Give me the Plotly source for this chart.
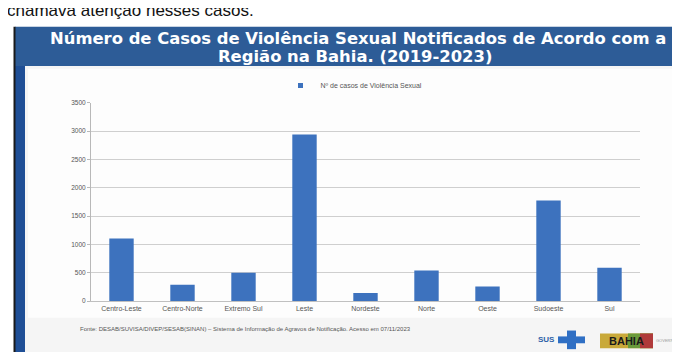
import plotly.graph_objects as go

W, H = 680, 352

categories = ["Centro-Leste", "Centro-Norte", "Extremo Sul", "Leste", "Nordeste",
              "Norte", "Oeste", "Sudoeste", "Sul"]
casos = [1105, 290, 500, 2940, 145, 540, 260, 1775, 590]
y_ticks = [0, 500, 1000, 1500, 2000, 2500, 3000, 3500]
series_name = "Nº de casos de Violência Sexual"
title_l1 = "Número de Casos de Violência Sexual Notificados de Acordo com a"
title_l2 = "Região na Bahia. (2019-2023)"
source_text = ("Fonte: DESAB/SUVISA/DIVEP/SESAB(SINAN) – Sistema de Informação de Agravos "
               "de Notificação. Acesso em 07/11/2023")
top_text = "chamava atenção nesses casos."

BAR_COLOR = "#3d72be"


def px(x):
    return x / W


def py(y):
    return 1 - y / H


fig = go.Figure()
fig.add_trace(go.Bar(
    x=categories, y=casos, name=series_name,
    marker=dict(color=BAR_COLOR, line=dict(width=0)),
    showlegend=False,
))
fig.add_trace(go.Scatter(
    x=[None], y=[None], mode="markers", name=series_name,
    marker=dict(symbol="square", size=5, color=BAR_COLOR),
    showlegend=True,
))

shapes = []
shapes.append(dict(type="rect", xref="paper", yref="paper", x0=px(7), x1=px(680),
                   y0=py(352), y1=py(15), fillcolor="#f5f5f5", line=dict(width=0), layer="below"))
shapes.append(dict(type="rect", xref="paper", yref="paper", x0=px(7), x1=px(680),
                   y0=py(55), y1=py(15), fillcolor="#2d5c97", line=dict(width=0), layer="below"))
shapes.append(dict(type="rect", xref="paper", yref="paper", x0=px(7), x1=px(17),
                   y0=py(352), y1=py(55), fillcolor="#1f4f96", line=dict(width=0), layer="below"))
shapes.append(dict(type="rect", xref="paper", yref="paper", x0=px(5.5), x1=px(7.5),
                   y0=py(352), y1=py(15), fillcolor="#1a1a1a", line=dict(width=0), layer="below"))
shapes.append(dict(type="rect", xref="paper", yref="paper", x0=px(20), x1=px(668),
                   y0=py(312), y1=py(58), fillcolor="#fdfdfd", line=dict(width=0), layer="below"))
shapes.append(dict(type="rect", xref="paper", yref="paper", x0=px(559), x1=px(568),
                   y0=py(344), y1=py(325), fillcolor="#2f6fc4", line=dict(width=0)))
shapes.append(dict(type="rect", xref="paper", yref="paper", x0=px(550), x1=px(577),
                   y0=py(338), y1=py(331), fillcolor="#2f6fc4", line=dict(width=0)))
shapes.append(dict(type="rect", xref="paper", yref="paper", x0=px(592), x1=px(645),
                   y0=py(343), y1=py(328), fillcolor="#c9a93a", line=dict(width=0)))
shapes.append(dict(type="rect", xref="paper", yref="paper", x0=px(620), x1=px(645),
                   y0=py(343), y1=py(328), fillcolor="#6a9a3a", line=dict(width=0)))
shapes.append(dict(type="rect", xref="paper", yref="paper", x0=px(632), x1=px(645),
                   y0=py(343), y1=py(328), fillcolor="#b03a3a", line=dict(width=0)))

FONT = "Liberation Sans, Arial"
TITLE_FONT = dict(family="DejaVu Sans", size=16.4, color="#ffffff")
annotations = [
    dict(text=top_text, xref="paper", yref="paper", x=px(-3), y=py(-2), xanchor="left",
         yanchor="middle", showarrow=False,
         font=dict(family=FONT, size=17, color="#111111")),
    dict(text="<b>" + title_l1 + "</b>", xref="paper", yref="paper", x=px(350), y=py(27),
         xanchor="center", yanchor="middle", showarrow=False, font=TITLE_FONT),
    dict(text="<b>" + title_l2 + "</b>", xref="paper", yref="paper", x=px(347), y=py(45),
         xanchor="center", yanchor="middle", showarrow=False, font=TITLE_FONT),
    dict(text=source_text, xref="paper", yref="paper", x=px(70), y=py(323),
         xanchor="left", yanchor="middle", showarrow=False,
         font=dict(family=FONT, size=6, color="#555555")),
    dict(text="<b>SUS</b>", xref="paper", yref="paper", x=px(549), y=py(334),
         xanchor="right", yanchor="middle", showarrow=False,
         font=dict(family=FONT, size=8, color="#2f5fa8")),
    dict(text="<b>BAHIA</b>", xref="paper", yref="paper", x=px(618), y=py(335.5),
         xanchor="center", yanchor="middle", showarrow=False,
         font=dict(family=FONT, size=11, color="#1a1a1a")),
    dict(text="GOVERNO", xref="paper", yref="paper", x=px(646), y=py(335.5),
         xanchor="left", yanchor="middle", showarrow=False,
         font=dict(family=FONT, size=4, color="#999999")),
]

fig.update_layout(
    width=W, height=H,
    margin=dict(l=0, r=0, t=0, b=0),
    paper_bgcolor="#ffffff",
    plot_bgcolor="rgba(0,0,0,0)",
    bargap=0.6,
    shapes=shapes,
    annotations=annotations,
    legend=dict(orientation="h", x=px(346), xanchor="center", y=py(75), yanchor="middle",
                font=dict(family=FONT, size=7, color="#555555"),
                bgcolor="rgba(0,0,0,0)", itemwidth=30, tracegroupgap=0),
    xaxis=dict(domain=[px(83), px(632)], showgrid=False, showline=True,
               linecolor="#c0c0c0", linewidth=1, ticks="",
               tickfont=dict(family=FONT, size=7, color="#555555"),
               fixedrange=True),
    yaxis=dict(domain=[py(295), py(92.5)], range=[0, 3500], tickvals=y_ticks,
               showgrid=True, gridcolor="#cfcfcf", gridwidth=1.3,
               showline=True, linecolor="#b8b8b8", linewidth=1,
               ticks="outside", ticklen=3, tickcolor="#b8b8b8",
               zeroline=False,
               tickfont=dict(family=FONT, size=6.5, color="#555555"),
               fixedrange=True),
)

fig.write_html("out.html")
